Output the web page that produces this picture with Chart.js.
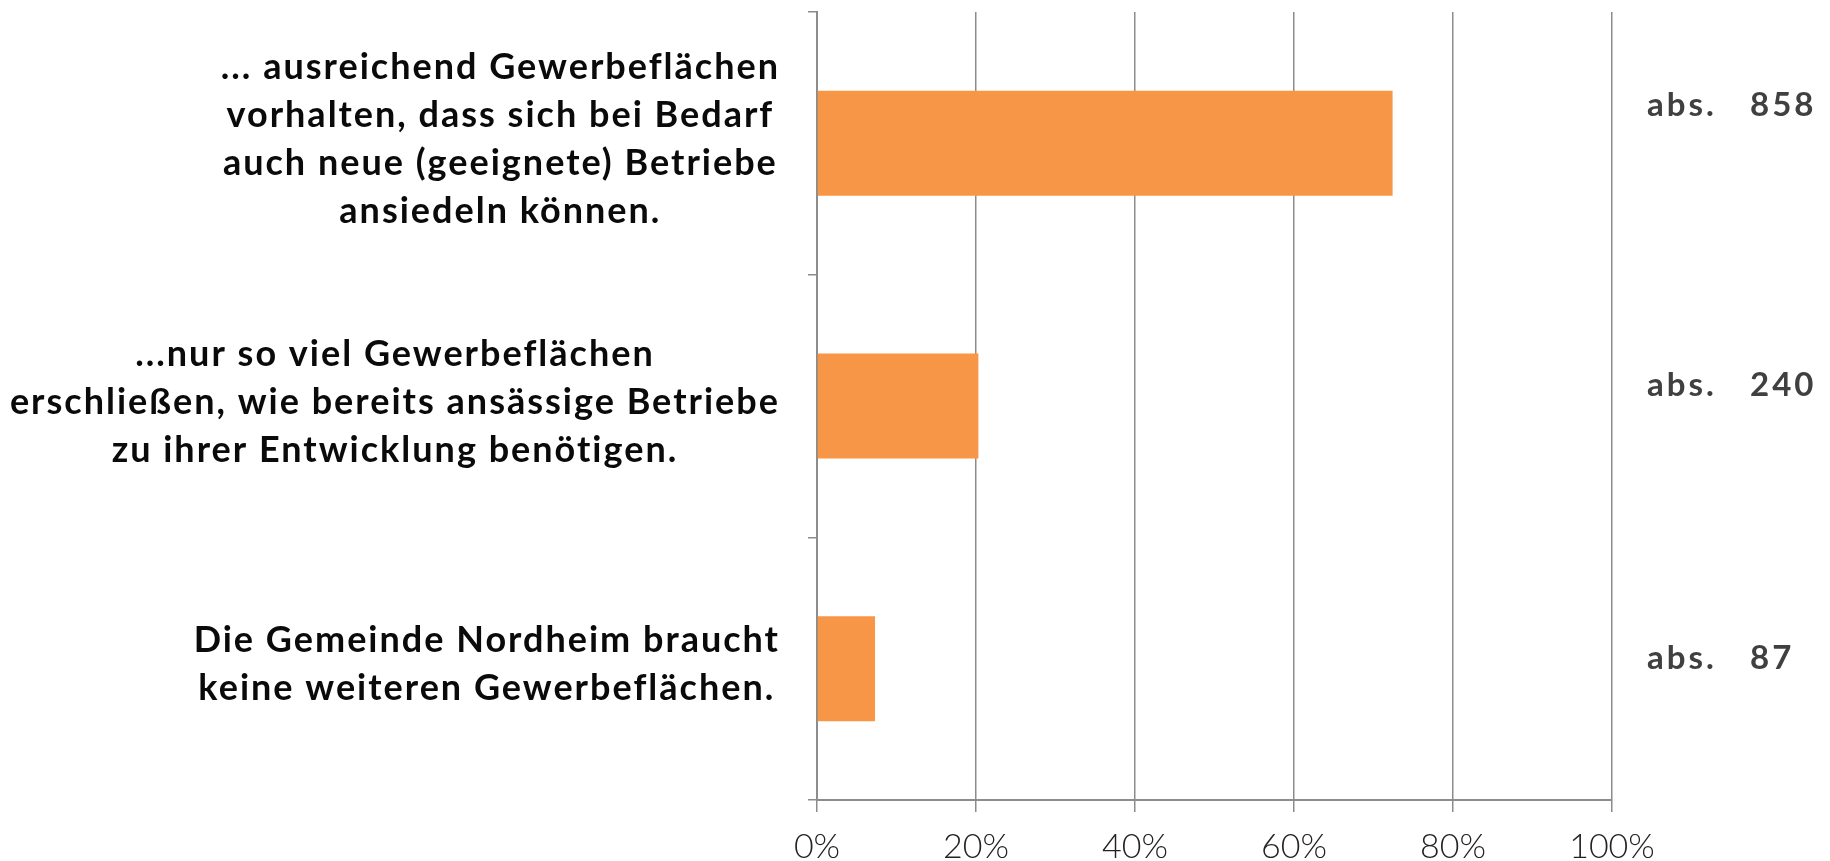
<!DOCTYPE html>
<html lang="de">
<head>
<meta charset="utf-8">
<script src="https://cdn.jsdelivr.net/npm/chart.js@4"></script>
<style>
    html, body { margin: 0; padding: 0; background: #fff; }
</style>
</head>
<body>
<canvas id="chartGewerbe" width="1830" height="861"></canvas>
<script>
// ----- DATEN -----
const kategorien = [
    ["... ausreichend Gewerbeflächen", "vorhalten, dass sich bei Bedarf", "auch neue (geeignete) Betriebe", "ansiedeln können."],
    ["...nur so viel Gewerbeflächen", "erschließen, wie bereits ansässige Betriebe", "zu ihrer Entwicklung benötigen."],
    ["Die Gemeinde Nordheim braucht", "keine weiteren Gewerbeflächen."]
];
const anteile = [72.4, 20.3, 7.3];      // Prozent
const absolut = [858, 240, 87];         // Anzahl Nennungen
const xTicks = [0, 20, 40, 60, 80, 100];

// ----- LAYOUT -----
const plotLeft = 817;
const labelRight = 780;
const lineGap = 48;
const absX = 1647, zahlX = 1750;
const absShift = [-38, -21, -10];
const gridColor = "#8c8c8c";

// Beschriftungen links (zentriert, Block rechtsbündig) + "abs." rechts
const labelPlugin = {
    id: "labels",
    afterDraw(chart) {
        const ctx = chart.ctx;
        const yScale = chart.scales.y;
        ctx.save();
        ctx.textBaseline = "middle";
        ctx.fillStyle = "#0a0a0a";
        ctx.font = "bold 36px Lato";
        ctx.letterSpacing = "2px";
        kategorien.forEach((lines, i) => {
            const yc = yScale.getPixelForValue(i) - 4;
            const maxW = Math.max(...lines.map(l => ctx.measureText(l).width));
            const cx = labelRight - maxW / 2;
            ctx.textAlign = "center";
            lines.forEach((l, j) => {
                ctx.fillText(l, cx, yc + (j - (lines.length - 1) / 2) * lineGap);
            });
        });
        ctx.fillStyle = "#404040";
        ctx.textAlign = "left";
        ctx.font = "bold 33px Lato";
        ctx.letterSpacing = "3px";
        absolut.forEach((n, i) => {
            const y = yScale.getPixelForValue(i) + absShift[i];
            ctx.fillText("abs.", absX, y);
            ctx.fillText(String(n), zahlX, y);
        });
        ctx.restore();
    }
};

new Chart(document.getElementById("chartGewerbe"), {
    type: "bar",
    data: {
        labels: kategorien.map(k => k.join(" ")),
        datasets: [{
            data: anteile,
            backgroundColor: "#F79646",
            barPercentage: 0.8,
            categoryPercentage: 0.5
        }]
    },
    options: {
        indexAxis: "y",
        responsive: false,
        animation: false,
        layout: { padding: { top: 12, right: 218, left: 0, bottom: 0 } },
        plugins: { legend: { display: false }, tooltip: { enabled: false } },
        scales: {
            x: {
                min: 0,
                max: 100,
                afterBuildTicks: s => { s.ticks = xTicks.map(v => ({ value: v })); },
                afterFit: s => { s.height = 61; },
                grid: { color: gridColor, lineWidth: 1.5, tickLength: 12 },
                border: { color: gridColor, width: 2 },
                ticks: {
                    callback: v => v + "%",
                    color: "#222",
                    padding: 15,
                    font: { family: "Lato", weight: 300, size: 34 }
                }
            },
            y: {
                afterFit: s => { s.width = plotLeft; },
                grid: { drawOnChartArea: false, color: gridColor, lineWidth: 1.5, tickLength: 9 },
                border: { color: gridColor, width: 2 },
                ticks: { display: false }
            }
        }
    },
    plugins: [labelPlugin]
});
</script>
</body>
</html>
